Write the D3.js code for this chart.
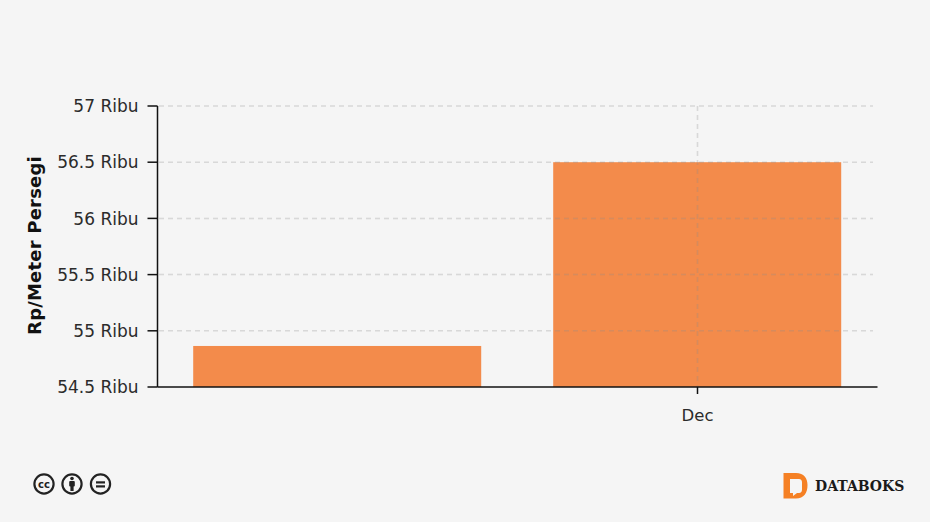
<!DOCTYPE html>
<html><head><meta charset="utf-8">
<script src="https://cdn.jsdelivr.net/npm/d3@7/dist/d3.min.js"></script>
<style>html,body{margin:0;padding:0;background:#f5f5f5}svg{display:block}text{font-family:"DejaVu Sans",sans-serif}</style>
</head><body><svg id="c" width="930" height="522"></svg>
<script>
const categories = ["", "Dec"];
const values = [54865, 56500];
const yTicks = [54500, 55000, 55500, 56000, 56500, 57000];
const yLabels = ["54.5 Ribu", "55 Ribu", "55.5 Ribu", "56 Ribu", "56.5 Ribu", "57 Ribu"];
const yTitle = "Rp/Meter Persegi";
const svg = d3.select("#c");
const x = d3.scaleBand().domain(categories).range([157.5, 877.5]).paddingInner(0.2).paddingOuter(0.1);
const y = d3.scaleLinear().domain([54500, 57000]).range([387, 106]);
const ink = "#2b2b2b";

// bars
svg.append("g").selectAll("rect").data(values).join("rect")
  .attr("x", (d, i) => x(categories[i]) - 0.3).attr("width", x.bandwidth())
  .attr("y", d => y(d)).attr("height", d => y(54500) - y(d))
  .attr("fill", "#f37021").attr("fill-opacity", 0.8);

// grid
const grid = svg.append("g").attr("stroke", "#8c8c8c").attr("stroke-opacity", 0.28).attr("stroke-width", 1.5).attr("stroke-dasharray", "5,4");
grid.selectAll("line.h").data(yTicks.slice(1)).join("line").attr("class", "h")
  .attr("x1", 159).attr("x2", 873).attr("y1", d => y(d)).attr("y2", d => y(d));
grid.append("line").attr("x1", x("Dec") + x.bandwidth() / 2).attr("x2", x("Dec") + x.bandwidth() / 2).attr("y1", 106).attr("y2", 387);

// axes
const ya = svg.append("g").attr("transform", "translate(157.5,0)")
  .call(d3.axisLeft(y).tickValues(yTicks).tickFormat((d, i) => yLabels[i]).tickSize(10).tickSizeOuter(0).tickPadding(9).offset(0));
ya.selectAll("text").attr("font-size", 17).attr("dy", "0.36em").attr("fill", ink).style("font-family", '"DejaVu Sans",sans-serif');
ya.selectAll("line,path").attr("stroke", "#111").attr("stroke-width", 1.5);
const xa = svg.append("g").attr("transform", "translate(0,387)")
  .call(d3.axisBottom(x).tickValues(["Dec"]).tickSize(7).tickSizeOuter(0).tickPadding(15).offset(0));
xa.selectAll("text").attr("font-size", 16.5).attr("fill", ink).style("font-family", '"DejaVu Sans",sans-serif');
xa.selectAll("line,path").attr("stroke", "#111").attr("stroke-width", 1.5);

svg.append("text").attr("transform", "translate(41,245.5) rotate(-90)").attr("text-anchor", "middle")
  .attr("font-size", 18).attr("letter-spacing", 0.2).attr("font-weight", "bold").attr("fill", "#111").text(yTitle);

// licence icons
const icons = svg.append("g").attr("fill", "none").attr("stroke", "#222").attr("stroke-width", 2.2);
[44, 72, 100.5].forEach(cx => icons.append("circle").attr("cx", cx).attr("cy", 484).attr("r", 9.6));
svg.append("text").attr("x", 44).attr("y", 487.5).attr("text-anchor", "middle").attr("font-size", 10).attr("font-weight", "bold").attr("fill", "#222").text("cc");
svg.append("circle").attr("cx", 72).attr("cy", 478.5).attr("r", 1.8).attr("fill", "#222");
svg.append("rect").attr("x", 69.2).attr("y", 481).attr("width", 5.6).attr("height", 5.5).attr("rx", 1).attr("fill", "#222");
svg.append("rect").attr("x", 70.4).attr("y", 485).attr("width", 3.2).attr("height", 6).attr("fill", "#222");
[481.5, 485.5].forEach(v => svg.append("rect").attr("x", 96).attr("y", v - 0.2).attr("width", 9).attr("height", 2.2).attr("fill", "#222"));

// logo
svg.append("path").attr("fill", "#f58024").attr("fill-rule", "evenodd")
  .attr("d", "M783.5,473 H796 C804,473 807.5,478 807.5,485 C807.5,493 804,498.5 796,498.5 H783.5 Z M790,479 V493 H793 V496 L797,493 H799 C801,493 802,491.5 802,489.5 V482.5 C802,480.5 801,479 799,479 Z");
svg.append("text").attr("x", 815).attr("y", 491).attr("font-size", 14).attr("font-weight", "bold").attr("fill", "#1a1a1a")
  .style("font-family", '"DejaVu Serif",serif').text("DATABOKS");
</script></body></html>
